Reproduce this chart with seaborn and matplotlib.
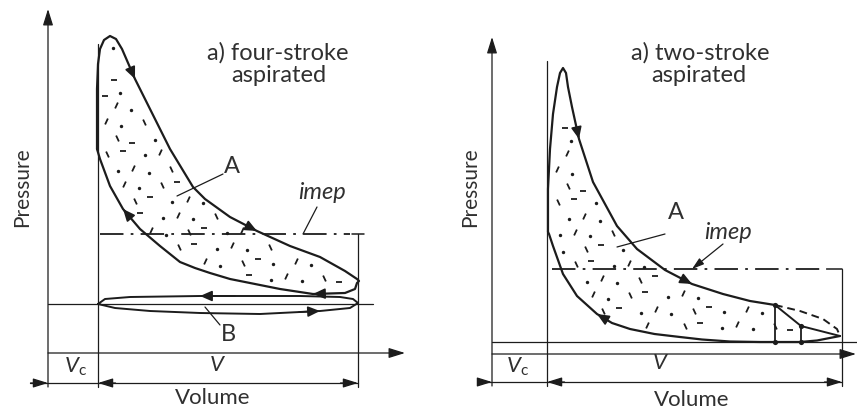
import numpy as np
import matplotlib
matplotlib.use("Agg")
import matplotlib.pyplot as plt
from matplotlib.markers import MarkerStyle
from matplotlib.path import Path
from matplotlib.transforms import Affine2D
import seaborn as sns

# ---------------- four-stroke aspirated (volume units, pressure units) ----------------
# working loop A, traced from TDC through combustion, expansion and compression
fs_loop_v = [1.96, 1.96, 1.96, 2.0, 2.08, 2.24, 2.48, 2.72, 2.96, 3.48,
             4.08, 4.88, 5.8, 6.28, 7.28, 8.36, 9.68, 10.88, 11.88, 12.36, 12.44,
             12.36, 12.28, 11.88, 10.6, 9.28, 7.28, 6.48, 5.88, 5.28, 4.48, 3.68, 3.0,
             2.48, 2.08, 1.96]
fs_loop_p = [20.4, 23.4, 26.4, 28.9, 30.4, 31.3, 31.7, 31.4, 30.4, 27.4,
             24.4, 20.4, 16.6, 15.4, 13.6, 12.2, 10.7, 9.6, 8.2, 7.4, 7.2,
             7.0, 6.4, 6.0, 5.9, 6.4, 7.4, 8.0, 8.5, 9.1, 10.7, 12.4, 14.4,
             16.7, 19.4, 20.4]
# pumping loop B
fs_pump_v = [2.0, 2.28, 3.28, 6.08, 10.08, 11.68, 12.2, 12.4,
             12.08, 10.88, 8.48, 6.08, 4.08, 2.68, 2.0]
fs_pump_p = [4.9, 5.4, 5.6, 5.7, 5.7, 5.6, 5.4, 5.0,
             4.5, 4.2, 3.9, 4.0, 4.2, 4.5, 4.9]
fs_vc, fs_vbdc, fs_p_atm, fs_imep = 2.0, 12.4, 4.9, 11.9

# ---------------- two-stroke aspirated ----------------
ts_expand_v = [2.24, 2.24, 2.32, 2.44, 2.6, 2.72, 2.84, 2.96, 3.04, 3.2,
               3.48, 4.04, 5.0, 5.8, 6.92, 8.0, 9.24, 10.32, 11.32]
ts_expand_p = [12.2, 16.5, 20.5, 24.0, 26.7, 28.1, 28.6, 28.1, 26.7, 24.7,
               21.5, 17.2, 12.8, 10.5, 8.4, 7.0, 6.0, 5.3, 4.9]
ts_blow_v = [11.32, 12.36, 13.92]
ts_blow_p = [4.9, 2.8, 1.8]
ts_late_v = [11.32, 12.32, 13.24, 13.8, 13.92]
ts_late_p = [4.9, 4.3, 3.5, 2.5, 1.8]
ts_comp_v = [13.92, 13.0, 12.32, 10.72, 9.52, 8.4, 7.52, 6.5, 5.52, 4.8,
             4.2, 3.4, 2.84, 2.44, 2.28, 2.24]
ts_comp_p = [1.8, 1.35, 1.2, 1.2, 1.25, 1.45, 1.7, 2.0, 2.5, 3.1,
             4.0, 5.8, 8.0, 10.8, 12.0, 12.2]
ts_vc, ts_vbdc, ts_p_low, ts_imep = 2.2, 14.0, 1.2, 8.5
ts_ports_v = [11.32, 12.36]

INK = "#1c1c1c"
TXT = "#303030"
FONT = "Lato"

sns.set_theme(style="white")
plt.rcParams["font.family"] = [FONT, "DejaVu Sans"]
plt.rcParams["mathtext.fontset"] = "custom"
plt.rcParams["mathtext.rm"] = FONT
plt.rcParams["mathtext.it"] = FONT + ":italic"

fig = plt.figure(figsize=(8.57, 4.14), dpi=100)
ax_l = fig.add_axes([0, 0, 430 / 857, 1])
ax_r = fig.add_axes([430 / 857, 0, 427 / 857, 1])
ax_l.set_xlim(-1.92, 15.28)
ax_l.set_ylim(-6.0, 35.4)
ax_r.set_xlim(-2.48, 14.6)
ax_r.set_ylim(-5.9, 35.5)
for ax in (ax_l, ax_r):
    ax.set_axis_off()

IMEP_DASH = (0, (13, 4, 1.5, 4))


def curve(ax, v, p, lw=1.5, ls="-"):
    sns.lineplot(x=v, y=p, ax=ax, sort=False, estimator=None,
                 color=INK, lw=lw, linestyle=ls)


def arrow(ax, tail, tip, lw=0.9, scale=11, hl=0.9, hw=0.28):
    ax.annotate("", xy=tip, xytext=tail,
                arrowprops=dict(arrowstyle=f"-|>,head_length={hl},head_width={hw}",
                                color=INK, lw=lw, shrinkA=0, shrinkB=0,
                                mutation_scale=scale))


def head_on(ax, v, p, k, reverse=False, scale=9):
    tip = np.array([v[k], p[k]])
    j = k + 1 if reverse else k - 1
    prev = np.array([v[j], p[j]])
    arrow(ax, tip + 0.35 * (prev - tip), tip, lw=1.2, scale=scale, hl=0.8, hw=0.35)


def stipple(ax, poly_v, poly_p):
    # regular staggered lattice of dots and short strokes inside the loop
    sx, sy = 25.0, 10.0
    path = Path(np.column_stack([np.asarray(poly_v) * sx, np.asarray(poly_p) * sy]))
    v0, v1 = min(poly_v), max(poly_v)
    p0, p1 = min(poly_p), max(poly_p)
    groups = {k: ([], []) for k in range(5)}
    g = 0.6180339887
    for j, pp in enumerate(np.arange(p0, p1, 1.55)):
        for i, vv in enumerate(np.arange(v0 + (j % 2) * 0.35, v1, 0.72)):
            jv = ((i * g + j * 0.4142) % 1 - 0.5) * 0.3
            jp = ((i * 0.4142 + j * g) % 1 - 0.5) * 0.8
            x, y = (vv + jv) * sx, (pp + jp) * sy
            probe = [(x, y), (x + 6, y), (x - 6, y), (x, y + 6), (x, y - 6)]
            if path.contains_points(probe).all():
                k = (i * 3 + j * 2) % 5
                groups[k][0].append(vv + jv)
                groups[k][1].append(pp + jp)
    angles = {1: 0, 2: 65, 3: 115}
    for k, (xs, ys) in groups.items():
        if not xs:
            continue
        if k in angles:
            m = MarkerStyle("_", transform=Affine2D().rotate_deg(angles[k]))
            sns.scatterplot(x=xs, y=ys, ax=ax, marker=m, s=22, color=INK,
                            linewidth=1.3)
        else:
            sns.scatterplot(x=xs, y=ys, ax=ax, marker="o", s=6, color=INK,
                            linewidth=0)


def text(ax, x, y, s, size=16, **kw):
    ax.text(x, y, s, fontsize=size, color=TXT, ha="center", va="center", **kw)


# ================= four-stroke panel =================
ax = ax_l
stipple(ax, fs_loop_v, fs_loop_p)
curve(ax, fs_loop_v, fs_loop_p, lw=1.6)
curve(ax, fs_pump_v, fs_pump_p, lw=1.4)
# axes and reference lines
arrow(ax, (0, -3.4), (0, 34.4))
arrow(ax, (0, 0), (14.28, 0))
curve(ax, [0, 13.0], [fs_p_atm, fs_p_atm], lw=0.9)
curve(ax, [fs_vc, fs_vc], [-3.4, 30.9], lw=0.9)
curve(ax, [fs_vbdc, fs_vbdc], [-3.4, fs_imep], lw=0.9)
curve(ax, [fs_vc + 0.08, fs_vbdc - 0.3], [fs_imep, fs_imep], lw=1.3, ls=IMEP_DASH)
curve(ax, [fs_vbdc - 0.25, fs_vbdc + 0.25], [fs_imep, fs_imep], lw=1.1)
# dimension line
curve(ax, [-0.72, fs_vbdc], [-3.0, -3.0], lw=0.9)
arrow(ax, (-0.7, -3.0), (0, -3.0), scale=10)
arrow(ax, (fs_vc + 0.7, -3.0), (fs_vc, -3.0), scale=10)
arrow(ax, (fs_vbdc - 0.7, -3.0), (fs_vbdc, -3.0), scale=10)
# flow direction marks
head_on(ax, fs_loop_v, fs_loop_p, 9)
head_on(ax, fs_loop_v, fs_loop_p, 15)
head_on(ax, fs_loop_v, fs_loop_p, 24)
head_on(ax, fs_loop_v, fs_loop_p, 32)
head_on(ax, fs_pump_v, fs_pump_p, 3, reverse=True)
head_on(ax, fs_pump_v, fs_pump_p, 9, reverse=True)
# labels
text(ax, 9.2, 30.1, "a) four-stroke", size=17)
text(ax, 9.24, 27.8, "aspirated", size=17)
text(ax, -1.04, 16.7, "Pressure", size=15, rotation=90)
text(ax, 6.6, -4.4, "Volume")
text(ax, 1.12, -1.3, r"$V_{\mathrm{c}}$")
text(ax, 6.76, -1.1, "V", style="italic")
text(ax, 7.36, 18.7, "A", size=17)
curve(ax, [5.16, 7.0], [15.7, 17.9], lw=0.9)
text(ax, 10.96, 16.1, "imep", size=17, style="italic")
curve(ax, [10.2, 10.76], [fs_imep, 14.6], lw=0.9)
text(ax, 7.2, 1.9, "B", size=17)
curve(ax, [6.28, 6.88], [4.6, 2.8], lw=0.9)

# ================= two-stroke panel =================
ax = ax_r
ts_poly_v = ts_expand_v + ts_blow_v[1:] + ts_comp_v[1:]
ts_poly_p = ts_expand_p + ts_blow_p[1:] + ts_comp_p[1:]
stipple(ax, ts_poly_v, ts_poly_p)
curve(ax, ts_expand_v, ts_expand_p, lw=1.6)
curve(ax, ts_blow_v, ts_blow_p, lw=1.4)
curve(ax, ts_late_v, ts_late_p, lw=1.4, ls=(0, (4, 2.5)))
curve(ax, ts_comp_v, ts_comp_p, lw=1.6)
for pv, top in zip(ts_ports_v, [ts_blow_p[0], ts_blow_p[1]]):
    curve(ax, [pv, pv], [top, ts_p_low], lw=1.3)
sns.scatterplot(x=ts_ports_v * 2, y=[ts_blow_p[0], ts_blow_p[1], ts_p_low, ts_p_low],
                ax=ax, color=INK, s=14, linewidth=0)
# axes and reference lines
arrow(ax, (0, -3.2), (0, 31.7))
arrow(ax, (0, 0), (14.56, 0))
curve(ax, [0, 14.6], [ts_p_low, ts_p_low], lw=0.9)
curve(ax, [ts_vc, ts_vc], [-3.2, 29.3], lw=0.9)
curve(ax, [ts_vbdc, ts_vbdc], [-3.2, ts_imep], lw=0.9)
curve(ax, [ts_vc + 0.2, ts_vbdc - 0.6], [ts_imep, ts_imep], lw=1.3, ls=IMEP_DASH)
curve(ax, [ts_vbdc - 0.6, ts_vbdc], [ts_imep, ts_imep], lw=1.1)
curve(ax, [-0.48, ts_vbdc], [-2.8, -2.8], lw=0.9)
arrow(ax, (-0.5, -2.8), (0, -2.8), scale=10)
arrow(ax, (ts_vc + 0.7, -2.8), (ts_vc, -2.8), scale=10)
arrow(ax, (ts_vbdc - 0.7, -2.8), (ts_vbdc, -2.8), scale=10)
head_on(ax, ts_expand_v, ts_expand_p, 10)
head_on(ax, ts_expand_v, ts_expand_p, 15)
head_on(ax, ts_comp_v, ts_comp_p, 10)
# labels
text(ax, 8.32, 30.2, "a) two-stroke", size=17)
text(ax, 8.28, 27.9, "aspirated", size=17)
text(ax, -0.88, 16.8, "Pressure", size=15, rotation=90)
text(ax, 8.0, -4.5, "Volume")
text(ax, 1.04, -1.2, r"$V_{\mathrm{c}}$")
text(ax, 6.72, -0.8, "V", style="italic")
text(ax, 7.36, 14.2, "A", size=17)
curve(ax, [5.0, 6.92], [10.7, 12.0], lw=0.9)
text(ax, 9.44, 12.2, "imep", size=17, style="italic")
arrow(ax, (9.24, 11.0), (8.0, ts_imep), scale=8)

fig.savefig("out.png", dpi=100)
